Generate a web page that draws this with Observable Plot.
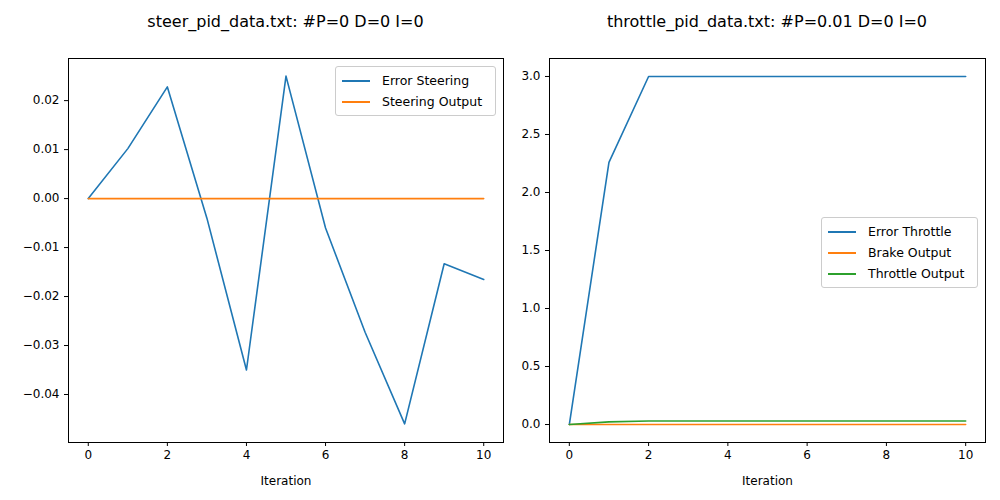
<!DOCTYPE html>
<html>
<head>
<meta charset="utf-8">
<script src="https://cdn.jsdelivr.net/npm/d3@7"></script>
<script src="https://cdn.jsdelivr.net/npm/@observablehq/plot@0.6"></script>
<style>
  body { margin: 0; background: #fff; font-family: "DejaVu Sans", sans-serif; }
  #wrap { position: relative; width: 1000px; height: 500px; }
  .panel { position: absolute; top: 0; }
  .title { height: 40px; line-height: 44px; font-size: 16px; text-align: center; }
  .legend { position: absolute; background: #fff; border: 1px solid #ccc; border-radius: 3px;
    font-size: 12.5px; padding: 3px 6px; }
  .legend div { display: flex; align-items: center; height: 21px; }
  .legend span.sw { display: inline-block; width: 28px; height: 2px; margin-right: 12px; }
</style>
</head>
<body>
<div id="wrap">
  <div class="panel" id="left" style="left:0;width:510px">
    <div class="title" style="padding-left:68px;padding-right:7px">steer_pid_data.txt: #P=0 D=0 I=0</div>
  </div>
  <div class="panel" id="right" style="left:510px;width:490px">
    <div class="title" style="padding-left:39px;padding-right:15px">throttle_pid_data.txt: #P=0.01 D=0 I=0</div>
  </div>
  <div class="legend" style="left:335px;top:66px;width:147px">
    <div><span class="sw" style="background:#1f77b4"></span>Error Steering</div>
    <div><span class="sw" style="background:#ff7f0e"></span>Steering Output</div>
  </div>
  <div class="legend" style="left:821px;top:217px;width:143px">
    <div><span class="sw" style="background:#1f77b4"></span>Error Throttle</div>
    <div><span class="sw" style="background:#ff7f0e"></span>Brake Output</div>
    <div><span class="sw" style="background:#2ca02c"></span>Throttle Output</div>
  </div>
</div>
<script>
const iteration = [0, 1, 2, 3, 4, 5, 6, 7, 8, 9, 10]
const errorSteering = [0, 0.0102, 0.0228, -0.004, -0.035, 0.025, -0.006, -0.0273, -0.046, -0.0133, -0.0165]
const steeringOutput = [0, 0, 0, 0, 0, 0, 0, 0, 0, 0, 0]
const errorThrottle = [0, 2.26, 3, 3, 3, 3, 3, 3, 3, 3, 3]
const brakeOutput = [0, 0, 0, 0, 0, 0, 0, 0, 0, 0, 0]
const throttleOutput = [0, 0.0226, 0.03, 0.03, 0.03, 0.03, 0.03, 0.03, 0.03, 0.03, 0.03]

const steerRows = iteration.map((x, i) => ({x, err: errorSteering[i], out: steeringOutput[i]}))
const throttleRows = iteration.map((x, i) => ({x, err: errorThrottle[i], brake: brakeOutput[i], thr: throttleOutput[i]}))

const common = {
  height: 460,
  marginTop: 18,
  marginBottom: 58,
  style: {fontSize: "12px", fontFamily: "DejaVu Sans, sans-serif", color: "#000"},
  x: {domain: [-0.5, 10.5], ticks: [0, 2, 4, 6, 8, 10], label: null, tickSize: 4},
}

let chartSteer = Plot.plot({
  ...common,
  width: 510, marginLeft: 68, marginRight: 7,
  y: {domain: [-0.0498, 0.0286], ticks: d3.range(-0.04, 0.025, 0.01), tickFormat: d3.format(".2f"), label: null, tickSize: 4},
  marks: [
    Plot.frame(),
    Plot.axisX({ticks: [0, 2, 4, 6, 8, 10], tickSize: 4, tickPadding: 4, fontSize: 12, label: "Iteration", labelAnchor: "center", labelArrow: "none", labelOffset: 42}),
    Plot.axisY({ticks: d3.range(-0.04, 0.025, 0.01), tickFormat: d3.format(".2f"), tickSize: 4, fontSize: 12, label: null}),
    Plot.line(steerRows, {x: "x", y: "err", stroke: "#1f77b4", strokeWidth: 1.6}),
    Plot.line(steerRows, {x: "x", y: "out", stroke: "#ff7f0e", strokeWidth: 1.6}),
  ]
})
d3.select('#left').append(() => chartSteer)

let chartThrottle = Plot.plot({
  ...common,
  width: 490, marginLeft: 39, marginRight: 15,
  y: {domain: [-0.155, 3.155], label: null},
  marks: [
    Plot.frame(),
    Plot.axisX({ticks: [0, 2, 4, 6, 8, 10], tickSize: 4, tickPadding: 4, fontSize: 12, label: "Iteration", labelAnchor: "center", labelArrow: "none", labelOffset: 42}),
    Plot.axisY({ticks: d3.range(0, 3.01, 0.5), tickFormat: d3.format(".1f"), tickSize: 4, fontSize: 12, label: null}),
    Plot.line(throttleRows, {x: "x", y: "err", stroke: "#1f77b4", strokeWidth: 1.6}),
    Plot.line(throttleRows, {x: "x", y: "brake", stroke: "#ff7f0e", strokeWidth: 1.6}),
    Plot.line(throttleRows, {x: "x", y: "thr", stroke: "#2ca02c", strokeWidth: 1.6}),
  ]
})
d3.select('#right').append(() => chartThrottle)
</script>
</body>
</html>
